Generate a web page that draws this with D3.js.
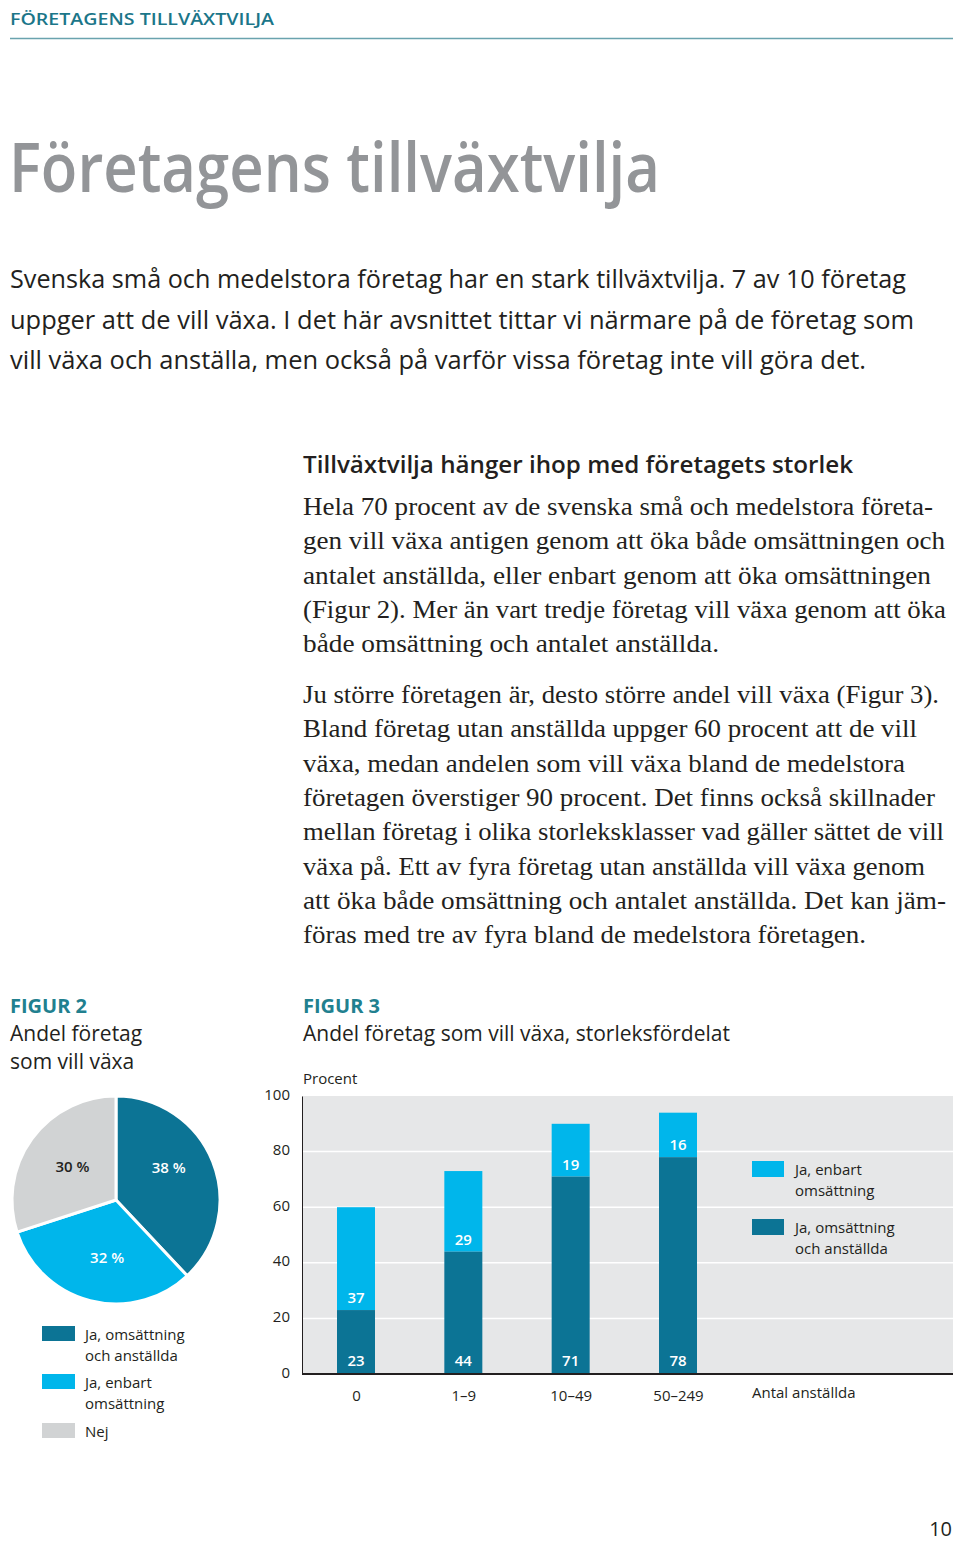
<!DOCTYPE html>
<html>
<head>
<meta charset="utf-8">
<script src="https://cdn.jsdelivr.net/npm/d3@7"></script>
<style>
  body { margin: 0; background: #fff; }
  svg { display: block; }
</style>
</head>
<body>
<svg id="page" width="960" height="1543"></svg>
<script>
//^^^^^^^^^^^^^^^^^^^^^^^^^^^^^^^^^^^^^^^^^^^^^^^^^^^^^^^^^^^^^^^^^^^^^^^^^^^^^^
// Data
//------------------------------------------------------------------------------
var pieLabels = ["Ja, omsättning och anställda", "Ja, enbart omsättning", "Nej"]
var pieValues = [38, 32, 30]

var sizeClasses = ["0", "1\u20139", "10\u201349", "50\u2013249"]
var bothValues = [23, 44, 71, 78]        // Ja, omsättning och anställda
var turnoverValues = [37, 29, 19, 16]    // Ja, enbart omsättning
var yTicks = [0, 20, 40, 60, 80, 100]

var intro = [
  "Svenska små och medelstora företag har en stark tillväxtvilja. 7 av 10 företag",
  "uppger att de vill växa. I det här avsnittet tittar vi närmare på de företag som",
  "vill växa och anställa, men också på varför vissa företag inte vill göra det."
]
var para1 = [
  "Hela 70 procent av de svenska små och medelstora företa-",
  "gen vill växa antigen genom att öka både omsättningen och",
  "antalet anställda, eller enbart genom att öka omsättningen",
  "(Figur 2). Mer än vart tredje företag vill växa genom att öka",
  "både omsättning och antalet anställda."
]
var para2 = [
  "Ju större företagen är, desto större andel vill växa (Figur 3).",
  "Bland företag utan anställda uppger 60 procent att de vill",
  "växa, medan andelen som vill växa bland de medelstora",
  "företagen överstiger 90 procent. Det finns också skillnader",
  "mellan företag i olika storleksklasser vad gäller sättet de vill",
  "växa på. Ett av fyra företag utan anställda vill växa genom",
  "att öka både omsättning och antalet anställda. Det kan jäm-",
  "föras med tre av fyra bland de medelstora företagen."
]

//^^^^^^^^^^^^^^^^^^^^^^^^^^^^^^^^^^^^^^^^^^^^^^^^^^^^^^^^^^^^^^^^^^^^^^^^^^^^^^
// Styles
//------------------------------------------------------------------------------
var dark = "#0c7495",
    light = "#00b6eb",
    grey = "#d1d3d4",
    plotBg = "#e6e7e8",
    ink = "#231f20",
    teal = "#21808f",
    sans = "'Open Sans', 'Noto Sans', sans-serif",
    serif = "'Liberation Serif', 'DejaVu Serif', serif"

var svg = d3.select("#page")

function label(parent, x, y, str, opts) {
  opts = opts || {}
  var t = parent.append("text")
    .attr("x", x)
    .attr("y", y)
    .attr("font-family", opts.family || sans)
    .attr("font-size", opts.size || 15)
    .attr("font-weight", opts.weight || 400)
    .attr("fill", opts.fill || ink)
    .attr("text-anchor", opts.anchor || "start")
    .text(str)
  if (opts.width) {
    t.attr("textLength", opts.width).attr("lengthAdjust", "spacingAndGlyphs")
  }
  return t
}

//^^^^^^^^^^^^^^^^^^^^^^^^^^^^^^^^^^^^^^^^^^^^^^^^^^^^^^^^^^^^^^^^^^^^^^^^^^^^^^
// Page header, title and text columns
//------------------------------------------------------------------------------
label(svg, 10, 25, "FÖRETAGENS TILLVÄXTVILJA", {size: 17, weight: 600, fill: "#1b7689", width: 264})
svg.append("line")
  .attr("x1", 10).attr("x2", 953)
  .attr("y1", 38.5).attr("y2", 38.5)
  .attr("stroke", "#6aa3ae").attr("stroke-width", 1.5)

label(svg, 9, 192, "Företagens tillväxtvilja", {size: 68, weight: 600, fill: "#939598", width: 651})

var introW = [896, 904, 856]
intro.forEach(function(l, i) {
  label(svg, 10, 288 + i * 40.5, l, {size: 26, width: introW[i]})
})

label(svg, 303, 473, "Tillväxtvilja hänger ihop med företagets storlek", {size: 24, weight: 600, width: 550})

var p1W = [630, 642, 628, 643, 416]
para1.forEach(function(l, i) {
  label(svg, 303, 515 + i * 34.3, l, {size: 25, family: serif, width: p1W[i]})
})
var p2W = [636, 614, 602, 632, 641, 622, 643, 563]
para2.forEach(function(l, i) {
  label(svg, 303, 703 + i * 34.3, l, {size: 25, family: serif, width: p2W[i]})
})

label(svg, 952, 1536, "10", {size: 20, anchor: "end"})

//^^^^^^^^^^^^^^^^^^^^^^^^^^^^^^^^^^^^^^^^^^^^^^^^^^^^^^^^^^^^^^^^^^^^^^^^^^^^^^
// Figur 2: pie
//------------------------------------------------------------------------------
label(svg, 10, 1013, "FIGUR 2", {size: 20, weight: 700, fill: teal})
label(svg, 10, 1041, "Andel företag", {size: 21})
label(svg, 10, 1069, "som vill växa", {size: 21})

var pieColors = [dark, light, grey],
    pieText = ["#fff", "#fff", ink],
    radius = 104

// the percentages sit a bit off the centroid in the original
var labelNudge = [[-3, -10], [6, 0], [5, 2]]

var pie = d3.pie().sort(null).value(function(d){ return d })
var arc = d3.arc().innerRadius(0).outerRadius(radius)
var labelArc = d3.arc().innerRadius(60).outerRadius(60)

var pieG = svg.append("g").attr("transform", "translate(116,1200)")
var slices = pie(pieValues)

pieG.selectAll("path")
  .data(slices)
  .enter().append("path")
    .attr("d", arc)
    .attr("fill", function(d, i){ return pieColors[i] })
    .attr("stroke", "#fff")
    .attr("stroke-width", 3)
    .attr("stroke-linejoin", "round")

pieG.selectAll("text")
  .data(slices)
  .enter().append("text")
    .attr("transform", function(d, i){
      var c = labelArc.centroid(d)
      return "translate(" + (c[0] + labelNudge[i][0]) + "," + (c[1] + 5 + labelNudge[i][1]) + ")"
    })
    .attr("text-anchor", "middle")
    .attr("font-family", sans)
    .attr("font-size", 15)
    .attr("font-weight", 600)
    .attr("fill", function(d, i){ return pieText[i] })
    .text(function(d){ return d.data + " %" })

var pieLegendY = [1326, 1374, 1423]
var pieLegendLines = [["Ja, omsättning", "och anställda"], ["Ja, enbart", "omsättning"], ["Nej"]]
pieLegendY.forEach(function(y, i) {
  svg.append("rect")
    .attr("x", 42).attr("y", y)
    .attr("width", 33).attr("height", 15)
    .attr("fill", pieColors[i])
  pieLegendLines[i].forEach(function(l, j) {
    label(svg, 85, y + 14 + j * 21, l, {size: 15})
  })
})

//^^^^^^^^^^^^^^^^^^^^^^^^^^^^^^^^^^^^^^^^^^^^^^^^^^^^^^^^^^^^^^^^^^^^^^^^^^^^^^
// Figur 3: stacked bars
//------------------------------------------------------------------------------
label(svg, 303, 1013, "FIGUR 3", {size: 20, weight: 700, fill: teal})
label(svg, 303, 1041, "Andel företag som vill växa, storleksfördelat", {size: 21})
label(svg, 303, 1084, "Procent", {size: 15})

var plot = {left: 302, right: 953, top: 1096, bottom: 1374},
    barW = 38

var x = d3.scalePoint().domain(sizeClasses).range([356, 678])
var y = d3.scaleLinear().domain([0, 100]).range([plot.bottom, plot.top])

var chart = svg.append("g")

chart.append("rect")
  .attr("x", plot.left).attr("y", plot.top)
  .attr("width", plot.right - plot.left)
  .attr("height", plot.bottom - plot.top)
  .attr("fill", plotBg)

chart.selectAll("line.grid")
  .data(yTicks.filter(function(t){ return t > 0 && t < 100 }))
  .enter().append("line")
    .attr("class", "grid")
    .attr("x1", plot.left).attr("x2", plot.right)
    .attr("y1", function(d){ return y(d) })
    .attr("y2", function(d){ return y(d) })
    .attr("stroke", "#fff")
    .attr("stroke-width", 1.5)

var rows = sizeClasses.map(function(c, i) {
  return {cat: c, both: bothValues[i], turnover: turnoverValues[i]}
})

var bars = chart.selectAll("g.bar")
  .data(rows)
  .enter().append("g")
    .attr("class", "bar")
    .attr("transform", function(d){ return "translate(" + (x(d.cat) - barW / 2) + ",0)" })

bars.append("rect")
  .attr("y", function(d){ return y(d.both + d.turnover) })
  .attr("height", function(d){ return y(d.both) - y(d.both + d.turnover) })
  .attr("width", barW)
  .attr("fill", light)

bars.append("rect")
  .attr("y", function(d){ return y(d.both) })
  .attr("height", function(d){ return y(0) - y(d.both) })
  .attr("width", barW)
  .attr("fill", dark)

bars.append("text")
  .attr("x", barW / 2)
  .attr("y", function(d){ return y(0) - 8 })
  .attr("text-anchor", "middle")
  .attr("font-family", sans).attr("font-size", 15).attr("font-weight", 600)
  .attr("fill", "#fff")
  .text(function(d){ return d.both })

bars.append("text")
  .attr("x", barW / 2)
  .attr("y", function(d){ return y(d.both) - 7 })
  .attr("text-anchor", "middle")
  .attr("font-family", sans).attr("font-size", 15).attr("font-weight", 600)
  .attr("fill", "#fff")
  .text(function(d){ return d.turnover })

// axes
var yAxis = d3.axisLeft(y).tickValues(yTicks).tickSize(0).tickPadding(12)
chart.append("g")
  .attr("transform", "translate(" + plot.left + ",0)")
  .call(yAxis)
  .call(function(g){
    g.select(".domain").attr("stroke", ink).attr("stroke-width", 1)
    g.selectAll("text")
      .attr("font-family", sans).attr("font-size", 15)
      .attr("fill", ink).attr("dy", "0.2em")
  })

var xAxis = d3.axisBottom(x).tickSize(0).tickPadding(16)
chart.append("g")
  .attr("transform", "translate(0," + plot.bottom + ")")
  .call(xAxis)
  .call(function(g){
    g.select(".domain").remove()
    g.selectAll("text")
      .attr("font-family", sans).attr("font-size", 15).attr("fill", ink)
  })

chart.append("line")
  .attr("x1", plot.left).attr("x2", plot.right)
  .attr("y1", plot.bottom).attr("y2", plot.bottom)
  .attr("stroke", ink).attr("stroke-width", 2)

label(chart, 752, 1398, "Antal anställda", {size: 15})

// legend
var barLegend = [
  {y: 1161, color: light, lines: ["Ja, enbart", "omsättning"]},
  {y: 1219, color: dark, lines: ["Ja, omsättning", "och anställda"]}
]
barLegend.forEach(function(l) {
  chart.append("rect")
    .attr("x", 752).attr("y", l.y)
    .attr("width", 32).attr("height", 16)
    .attr("fill", l.color)
  l.lines.forEach(function(s, j) {
    label(chart, 795, l.y + 14 + j * 21, s, {size: 15})
  })
})
</script>
</body>
</html>
